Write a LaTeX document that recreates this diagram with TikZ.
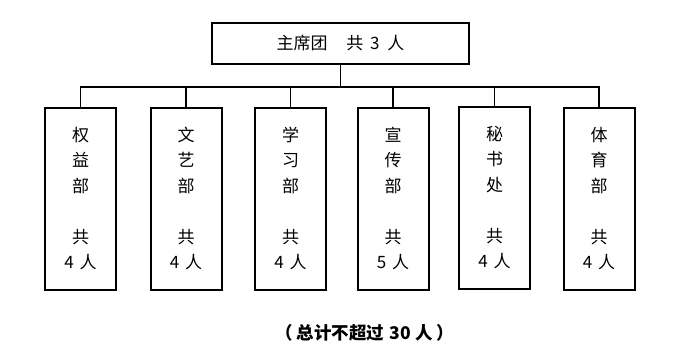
\documentclass[tikz,border=0pt]{standalone}
\usepackage{fontspec}
\setmainfont{Noto Sans CJK SC}
\begin{document}
\begin{tikzpicture}[x=1pt,y=-1pt,
  topbox/.style={draw,line width=1.8pt,minimum width=257pt,minimum height=41pt,inner sep=0pt,font=\fontsize{17}{18}\selectfont},
  deptbox/.style={draw,line width=2pt,minimum width=71pt,minimum height=182pt,inner sep=0pt,align=center,font=\fontsize{17}{25.5}\selectfont},
  conn/.style={line width=1.3pt},
  note/.style={font=\bfseries\fontsize{17.5}{18}\selectfont}]
\useasboundingbox (0,0) rectangle (699,359);
\node[topbox] (top) at (340.5,43.5) {主席团\hspace{1.1em}共\hspace{0.4em}3\hspace{0.45em}人};
\coordinate (bus) at (340.5,87);
\node[deptbox] (d1) at (80.5,198.5) {权\\益\\部\\ \\共\\4\hspace{0.35em}人};
\node[deptbox] (d2) at (186,198.5) {文\\艺\\部\\ \\共\\4\hspace{0.35em}人};
\node[deptbox] (d3) at (290.5,198.5) {学\\习\\部\\ \\共\\4\hspace{0.35em}人};
\node[deptbox] (d4) at (393,198.5) {宣\\传\\部\\ \\共\\5\hspace{0.35em}人};
\node[deptbox] (d5) at (494.5,197.5) {秘\\书\\处\\ \\共\\4\hspace{0.35em}人};
\node[deptbox] (d6) at (599,198.5) {体\\育\\部\\ \\共\\4\hspace{0.35em}人};
\draw[conn] (top.south) -- (bus);
\draw[conn] (d1.north) |- (bus) -| (d6.north);
\foreach \n in {d2,d3,d4,d5} \draw[conn] (\n.north) -- (\n.north |- bus);
\node[note] (total) at (365,333) {（\hspace{0.2em}总计不超过\hspace{0.3em}30\hspace{0.3em}人\hspace{0.2em}）};
\end{tikzpicture}
\end{document}
